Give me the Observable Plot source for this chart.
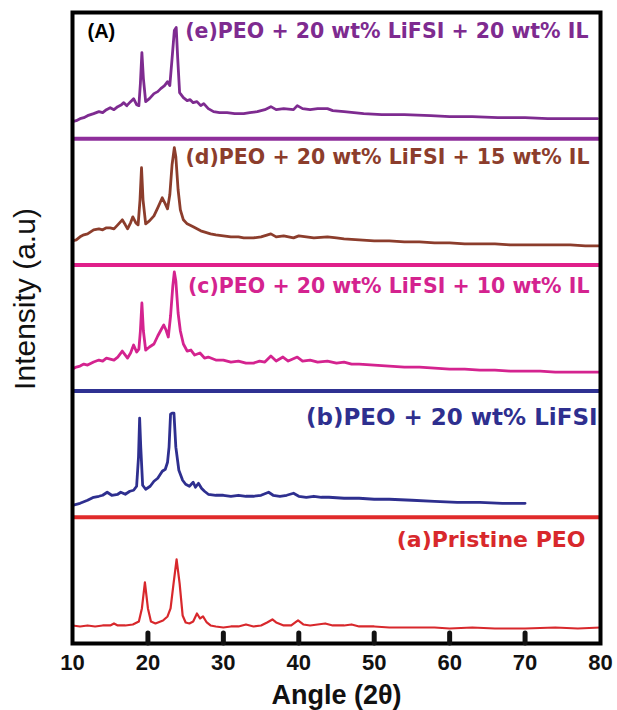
<!DOCTYPE html>
<html>
<head>
<meta charset="utf-8">
<script src="https://cdn.jsdelivr.net/npm/d3@7"></script>
<script src="https://cdn.jsdelivr.net/npm/@observablehq/plot@0.6"></script>
<style>
  html, body { margin: 0; padding: 0; background: white; }
</style>
</head>
<body>
<div id="chart"></div>
<script>
// Series names (bottom to top) and legend labels
const seriesNames = ["a", "b", "c", "d", "e"];
const seriesLabels = [
  "(a)Pristine PEO",
  "(b)PEO + 20 wt% LiFSI",
  "(c)PEO + 20 wt% LiFSI + 10 wt% IL",
  "(d)PEO + 20 wt% LiFSI + 15 wt% IL",
  "(e)PEO + 20 wt% LiFSI + 20 wt% IL"
];
const lineColors = ["#d8282c", "#2e2f8f", "#d4238f", "#8c3d2c", "#7e2b90"];
const separatorColors = ["#e02a2a", "#2e3192", "#e0208a", "#8e2e9b"];

// [2θ, intensity (a.u.)], each relative to its own panel
const pristine = [[10,18],[11,17],[12,18],[13,17],[14,18],[15,18],[15.5,20],[16,18],[17,18],[18,19],[18.8,22],[19.2,35],[19.6,61],[20.0,35],[20.4,22],[21,20],[22,23],[22.6,27],[23.0,35],[23.4,60],[23.8,84],[24.2,60],[24.6,28],[25,21],[25.5,20],[26,22],[26.5,30],[26.9,25],[27.3,27],[27.8,21],[28.3,18],[29,17],[30,16],[31,17],[32,17],[33,19],[34,17],[35,18],[35.8,21],[36.5,24],[37,21],[38,18],[39,18],[39.9,23],[40.6,19],[41.5,18],[42.5,19],[43.5,20],[44.5,18],[46,18],[47,19],[48,17],[50,17],[52,16],[55,16],[58,16],[60,15],[63,16],[66,15],[70,15],[74,16],[77,15],[80,16]];
const lifsi = [[10,12],[11,14],[12,17],[12.8,20],[13.5,21],[14,22],[14.6,25],[15.2,22],[16,23],[16.4,25],[17,23],[17.6,26],[18.1,27],[18.5,31],[18.75,60],[18.9,99],[19.05,70],[19.3,32],[19.7,28],[20.3,31],[20.8,36],[21.3,39],[21.9,46],[22.3,48],[22.6,55],[22.8,70],[23.0,103],[23.2,104],[23.45,104],[23.7,70],[24.1,47],[24.6,37],[25.0,33],[25.5,31],[26.0,35],[26.3,30],[26.7,34],[27.1,29],[27.5,26],[28,23],[29,22],[30,22],[31,21],[32,22],[33,21],[34,21],[35,22],[36,25],[36.6,22],[37.5,21],[38.4,22],[39.3,24],[40,21],[41,20],[42,21],[43,20],[44,20],[46,19],[48,19],[50,18],[52,18],[55,17],[58,16],[61,15],[64,15],[67,14],[70,14]];
const il10 = [[10,22],[10.5,24],[11,25],[11.5,27],[12,26],[12.8,29],[13.5,31],[14,30],[14.5,33],[15,32],[15.5,31],[16,34],[16.6,40],[17,36],[17.3,33],[17.7,38],[18.1,46],[18.5,39],[18.8,42],[19.0,60],[19.2,88],[19.4,60],[19.7,41],[20.2,44],[20.8,47],[21.3,55],[21.8,62],[22.1,66],[22.4,61],[22.7,54],[23.0,75],[23.3,105],[23.5,119],[23.7,110],[24.0,78],[24.3,60],[24.7,47],[25.2,40],[25.7,41],[26.2,36],[26.9,38],[27.5,33],[28,34],[29,31],[30,31],[31,29],[32,30],[33,28],[34,28],[34.8,30],[35.5,29],[36.3,35],[37,30],[37.9,34],[38.6,30],[39.8,34],[40.5,30],[41.5,31],[42.5,29],[43.8,30],[45,28],[46,29],[47,27],[48,27],[50,26],[52,25],[54,24],[56,24],[58,23],[60,22],[62,22],[64,21],[66,21],[68,20],[70,20],[72,20],[74,19],[76,19],[78,19],[80,19]];
const il15 = [[10,24],[10.5,25],[11,28],[11.5,30],[12,31],[12.8,35],[13.5,36],[14,35],[14.5,37],[15,37],[15.5,36],[16,40],[16.6,45],[17,40],[17.3,36],[17.7,42],[18.0,48],[18.4,42],[18.7,40],[18.95,65],[19.15,97],[19.35,65],[19.7,41],[20.2,44],[20.8,49],[21.3,57],[21.9,67],[22.3,61],[22.6,56],[22.9,70],[23.2,100],[23.5,117],[23.7,108],[24.0,75],[24.3,55],[24.7,45],[25.2,41],[26,38],[26.5,36],[27,34],[28.3,31],[29,30],[30,29],[31,28],[32,28],[32.7,27],[34,27],[35,28],[36.3,31],[37,28],[38,29],[39.3,27],[40,29],[41,28],[42,27],[43.8,28],[45,27],[46,26],[48,25],[50,24],[52,24],[54,23],[56,23],[58,22],[60,22],[62,21],[64,21],[66,21],[68,20],[70,20],[72,20],[74,20],[76,20],[78,19],[80,19]];
const il20 = [[10,17],[10.5,18],[11,20],[11.5,21],[12,23],[12.8,25],[13.5,27],[14,26],[14.5,29],[15,31],[15.5,29],[16,32],[16.5,34],[16.8,36],[17.2,33],[17.7,37],[18.1,40],[18.5,34],[18.8,33],[19.0,55],[19.2,86],[19.4,60],[19.7,37],[20.2,40],[20.8,45],[21.3,47],[21.7,50],[22.2,53],[22.6,57],[22.9,53],[23.2,80],[23.5,108],[23.75,111],[23.95,80],[24.2,46],[24.7,41],[25.2,38],[25.6,39],[26,36],[26.5,37],[27,33],[27.4,35],[28,30],[28.7,27],[29.5,26],[30.5,26],[31.5,25],[32.7,25],[33.5,26],[34.5,27],[35.5,29],[36.3,32],[37,29],[38,30],[39.3,29],[39.8,33],[40.5,30],[41.5,29],[42.5,30],[43.8,30],[44.5,28],[46,27],[48.6,25],[51,24],[54,24],[57.5,23],[60,22],[63,22],[66.4,21],[70,21],[73,20],[76,20],[79.6,20]];

const xTickLabels = [10, 20, 30, 40, 50, 60, 70, 80];
const xTickMarks = [20, 30, 40, 50, 60, 70];

// Build the table
const H = 126; // height of one stacked panel, in intensity units
const allSeries = [pristine, lifsi, il10, il15, il20];
const rows = allSeries.flatMap((arr, k) =>
  arr.map(([angle, intensity]) => ({series: seriesNames[k], k, angle, intensity}))
);
const labelRows = seriesLabels.map((text, k) => ({series: seriesNames[k], k, text}));

// per-label text styling (font size, offsets)
const labelStyle = [
  {fontSize: 22, dx: -15, dy: 30},
  {fontSize: 23, dx: -3, dy: 34},
  {fontSize: 20.5, dx: -11, dy: 28},
  {fontSize: 20.5, dx: -11, dy: 25},
  {fontSize: 20.5, dx: -12, dy: 25}
];

const separators = separatorColors.map((c, i) =>
  Plot.ruleY([(i + 1) * H], {stroke: c, strokeWidth: 4})
);

const labelMarks = labelRows.map((row, i) =>
  Plot.text([row], {
    x: 80,
    y: d => (d.k + 1) * H,
    text: "text",
    fill: "series",
    textAnchor: "end",
    lineAnchor: "bottom",
    dx: labelStyle[i].dx,
    dy: labelStyle[i].dy,
    fontSize: labelStyle[i].fontSize,
    fontWeight: "bold",
    fontFamily: "'DejaVu Sans', Verdana, sans-serif"
  })
);

const chart = Plot.plot({
  width: 617,
  height: 710,
  marginTop: 12,
  marginLeft: 72,
  marginRight: 17,
  marginBottom: 67,
  x: {domain: [10, 80], label: null},
  y: {domain: [0, 5 * H], axis: null},
  color: {domain: seriesNames, range: lineColors},
  style: {fontFamily: "'Liberation Sans', Arial, sans-serif", background: "white", overflow: "visible"},
  marks: [
    ...separators,
    Plot.line(rows.filter(d => d.k > 0), {
      x: "angle",
      y: d => d.intensity + d.k * H,
      z: "series",
      stroke: "series",
      strokeWidth: 2.8,
      strokeLinejoin: "round"
    }),
    Plot.line(rows.filter(d => d.k === 0), {
      x: "angle",
      y: d => d.intensity + d.k * H,
      z: "series",
      stroke: "series",
      strokeWidth: 2.2,
      strokeLinejoin: "round"
    }),
    ...labelMarks,
    Plot.text(["(A)"], {
      frameAnchor: "top-left",
      dx: 15,
      dy: 11,
      lineAnchor: "top",
      fontSize: 20,
      fontWeight: "bold",
      fill: "black"
    }),
    Plot.frame({stroke: "black", strokeWidth: 4}),
    // inward tick marks on the bottom axis
    Plot.axisX({ticks: xTickMarks, tickSize: 10, dy: -10, stroke: "#111", strokeWidth: 5, strokeLinecap: "round", tickFormat: () => "", label: null}),
    Plot.axisX({ticks: xTickLabels, tickSize: 0, tickPadding: 11, fontSize: 22, fontWeight: "bold", label: null, fill: "#111"}),
    Plot.text(["Angle (2θ)"], {
      frameAnchor: "bottom",
      dy: 52,
      lineAnchor: "middle",
      fontSize: 27,
      fontWeight: "bold",
      fill: "#111"
    }),
    Plot.text(["Intensity (a.u)"], {
      frameAnchor: "left",
      textAnchor: "middle",
      dx: -47,
      dy: -29,
      rotate: -90,
      lineAnchor: "middle",
      fontSize: 30,
      fill: "#111"
    })
  ]
});
document.getElementById("chart").appendChild(chart);
</script>
</body>
</html>
